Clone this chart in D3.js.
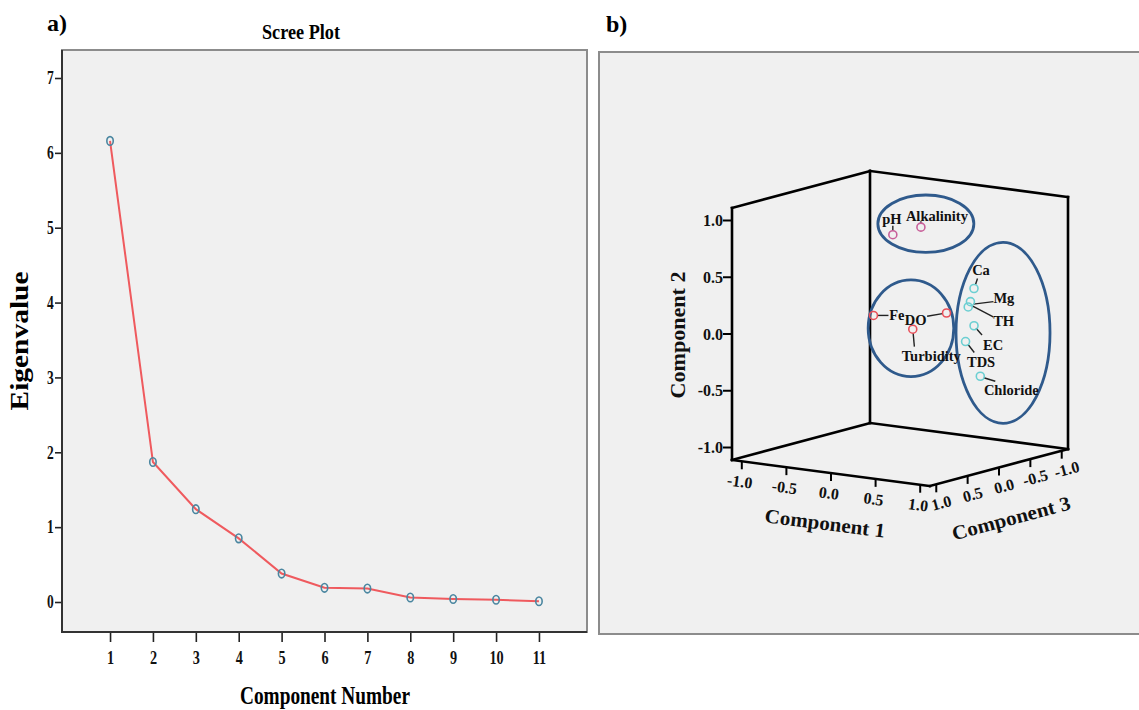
<!DOCTYPE html>
<html><head><meta charset="utf-8">
<script src="https://cdn.jsdelivr.net/npm/d3@7"></script>
<style>body{margin:0;background:#fff}svg{display:block}</style>
</head><body>
<svg id="chart" width="1139" height="710"></svg>
<script>
// ---------- data: panel a (scree plot) ----------
const components = [1,2,3,4,5,6,7,8,9,10,11];
const eigenvalues = [6.16,1.87,1.24,0.85,0.38,0.19,0.18,0.06,0.04,0.03,0.01];
const eigenTicks = [0,1,2,3,4,5,6,7];

// ---------- data: panel b (component loadings) ----------
const variables = ["pH","Alkalinity","Ca","Mg","TH","EC","TDS","Chloride","Fe","DO","Turbidity"];
const comp1 = [-0.01,0.34,0.90,0.86,0.80,0.83,0.70,0.83,0.23,0.17,0.53];
const comp2 = [0.84,0.95,0.46,0.34,0.28,0.11,-0.05,-0.35,0.25,0.08,0.13];
const comp3 = [0.10,0.15,0.10,0.10,0.05,0.00,-0.05,-0.10,0.75,-0.50,0.55];
const groups = ["B","B","A","A","A","A","A","A","C","C","C"];
const loadingTicks = [-1.0,-0.5,0.0,0.5,1.0];

// ---------- layout / style ----------
const serif = "'Liberation Serif','Times New Roman',serif";
const svg = d3.select("#chart");
const groupColor = {A:"#6ccfd2", B:"#c8609a", C:"#e8505a"};
const labelPlace = {
  "pH":        {dx:-1, dy:-11, anchor:"middle", l0:[0,-4], l1:[0,-9]},
  "Alkalinity":{dx:16, dy:-6,  anchor:"middle", l0:[0,-4], l1:[0,-6]},
  "Ca":        {dx:7,  dy:-14, anchor:"middle", l0:[1.5,-4], l1:[3.5,-10]},
  "Mg":        {dx:23, dy:1.6, anchor:"start",  l0:[3,2.5], l1:[23,0]},
  "TH":        {dx:25, dy:19.3,anchor:"start",  l0:[4,-1], l1:[25,10]},
  "EC":        {dx:9,  dy:24.3,anchor:"start",  l0:[2,2.5], l1:[8,9.3]},
  "TDS":       {dx:1.4,dy:25,  anchor:"start",  l0:[2.5,3], l1:[8.7,11]},
  "Chloride":  {dx:3.6,dy:18.3,anchor:"start",  l0:[3.5,1.5], l1:[15,5]},
  "Fe":        {dx:15.7,dy:5,  anchor:"start",  l0:[4,0], l1:[15,0]},
  "DO":        {dx:-20,dy:12.3,anchor:"end",    l0:[-4,0.6], l1:[-19.4,3.3]},
  "Turbidity": {dx:-11,dy:31.4,anchor:"start",  l0:[0.4,4], l1:[1.6,17.4]}
};

// ================= PANEL A =================
const A = {left:62, top:50, right:587, bottom:632};
svg.append("rect").attr("x",A.left).attr("y",A.top)
  .attr("width",A.right-A.left).attr("height",A.bottom-A.top)
  .attr("fill","#f0f0f0").attr("stroke","#8c8c8c").attr("stroke-width",2);

const x = d3.scalePoint().domain(components).range([A.left,A.right]).padding(1.12);
const y = d3.scaleLinear().domain([0,7]).range([602,78]);

const gy = svg.append("g").attr("transform",`translate(${A.left},0)`)
  .call(d3.axisLeft(y).tickValues(eigenTicks).tickSize(7).tickPadding(4).tickFormat(d3.format("d")));
const gx = svg.append("g").attr("transform",`translate(0,${A.bottom})`)
  .call(d3.axisBottom(x).tickSize(10).tickPadding(9));
[gx,gy].forEach(g=>{
  g.select(".domain").remove();
  g.selectAll(".tick line").attr("stroke","#222").attr("stroke-width",1.6);
  g.selectAll(".tick text").attr("font-family",serif).attr("font-weight","bold")
    .attr("font-size",19).attr("fill","#111");
});
gx.selectAll(".tick text").attr("transform","scale(0.75,1)");
gy.selectAll(".tick text").attr("font-size",18).attr("transform","scale(0.75,1)");
svg.append("line").attr("x1",A.left).attr("x2",A.left).attr("y1",A.top).attr("y2",A.bottom+1)
  .attr("stroke","#333").attr("stroke-width",2);
svg.append("line").attr("x1",A.left).attr("x2",A.right).attr("y1",A.bottom).attr("y2",A.bottom)
  .attr("stroke","#333").attr("stroke-width",2);

const scree = components.map((c,i)=>({c, v:eigenvalues[i]}));
svg.append("path").datum(scree)
  .attr("d", d3.line().x(d=>x(d.c)).y(d=>y(d.v)))
  .attr("fill","none").attr("stroke","#ef5a5e").attr("stroke-width",2);
svg.append("g").selectAll("ellipse").data(scree).join("ellipse")
  .attr("cx",d=>x(d.c)).attr("cy",d=>y(d.v)).attr("rx",3.2).attr("ry",4.3)
  .attr("fill","none").attr("stroke","#4a86a0").attr("stroke-width",1.6);

svg.append("text").attr("x",301).attr("y",39).attr("text-anchor","middle")
  .attr("font-family",serif).attr("font-weight","bold").attr("font-size",21)
  .attr("textLength",78).attr("lengthAdjust","spacingAndGlyphs").text("Scree Plot");
svg.append("text").attr("x",325).attr("y",704).attr("text-anchor","middle")
  .attr("font-family",serif).attr("font-weight","bold").attr("font-size",26)
  .attr("textLength",170).attr("lengthAdjust","spacingAndGlyphs").text("Component Number");
svg.append("text").attr("transform","translate(28,341) rotate(-90)").attr("text-anchor","middle")
  .attr("font-family",serif).attr("font-weight","bold").attr("font-size",25)
  .attr("textLength",139).attr("lengthAdjust","spacingAndGlyphs").text("Eigenvalue");
svg.append("text").attr("x",47).attr("y",31)
  .attr("font-family",serif).attr("font-weight","bold").attr("font-size",24).text("a)");

// ================= PANEL B =================
svg.append("rect").attr("x",599).attr("y",52).attr("width",560).attr("height",582)
  .attr("fill","#f0f0f0").attr("stroke","#8c8c8c").attr("stroke-width",2);
svg.append("text").attr("x",606).attr("y",32)
  .attr("font-family",serif).attr("font-weight","bold").attr("font-size",24).text("b)");

const D1 = [-1.11,1.11], D2 = [-1.11,1.11], D3 = [-1.1,1.1];
const origin = [900,328.5];
const c1x = d3.scaleLinear().domain(D1).range([-99,99]);
const c1y = d3.scaleLinear().domain(D1).range([-13,13]);
const c2y = d3.scaleLinear().domain(D2).range([126,-126]);
const c3x = d3.scaleLinear().domain(D3).range([69,-69]);
const c3y = d3.scaleLinear().domain(D3).range([-18.5,18.5]);
const P = (a,b,c)=>[origin[0]+c1x(a)+c3x(c), origin[1]+c1y(a)+c2y(b)+c3y(c)];

const [L1,H1]=D1,[L2,H2]=D2,[L3,H3]=D3;
const edges = [
  [[L1,L2,H3],[L1,H2,H3]], [[L1,L2,L3],[L1,H2,L3]], [[H1,L2,L3],[H1,H2,L3]],
  [[L1,H2,H3],[L1,H2,L3]], [[L1,H2,L3],[H1,H2,L3]],
  [[L1,L2,H3],[L1,L2,L3]], [[L1,L2,L3],[H1,L2,L3]],
  [[L1,L2,H3],[H1,L2,H3]], [[H1,L2,H3],[H1,L2,L3]]
];
const gb = svg.append("g");
gb.selectAll("line.edge").data(edges).join("line").attr("class","edge")
  .attr("x1",d=>P(...d[0])[0]).attr("y1",d=>P(...d[0])[1])
  .attr("x2",d=>P(...d[1])[0]).attr("y2",d=>P(...d[1])[1])
  .attr("stroke","#000").attr("stroke-width",2.6).attr("stroke-linecap","square");

const fmt = v => v.toFixed(1);
const tickFont = g=>g.attr("font-family",serif).attr("font-weight","bold").attr("font-size",16).attr("fill","#111");
loadingTicks.forEach(v=>{
  const p = P(L1,v,H3);
  gb.append("line").attr("x1",p[0]-9).attr("x2",p[0]).attr("y1",p[1]).attr("y2",p[1])
    .attr("stroke","#000").attr("stroke-width",2);
  gb.append("text").attr("x",p[0]-9).attr("y",p[1]).attr("dy","0.35em").attr("text-anchor","end")
    .call(tickFont).text(fmt(v));
});
loadingTicks.forEach(v=>{
  const p = P(v,L2,H3);
  gb.append("line").attr("x1",p[0]).attr("x2",p[0]).attr("y1",p[1]).attr("y2",p[1]+8)
    .attr("stroke","#000").attr("stroke-width",2);
  gb.append("text").attr("transform",`translate(${p[0]-2},${p[1]+20}) rotate(7.5)`)
    .attr("dy","0.35em").attr("text-anchor","middle").call(tickFont).text(fmt(v));
});
loadingTicks.forEach(v=>{
  const p = P(H1,L2,v);
  gb.append("line").attr("x1",p[0]).attr("x2",p[0]).attr("y1",p[1]).attr("y2",p[1]+8)
    .attr("stroke","#000").attr("stroke-width",2);
  gb.append("text").attr("transform",`translate(${p[0]+5},${p[1]+18.5}) rotate(-15)`)
    .attr("dy","0.35em").attr("text-anchor","middle").call(tickFont).text(fmt(v));
});
const titleFont = t=>t.attr("font-family",serif).attr("font-weight","bold").attr("font-size",20)
  .attr("fill","#111").attr("text-anchor","middle").attr("lengthAdjust","spacingAndGlyphs");
gb.append("text").attr("transform","translate(678,335) rotate(-90)").attr("dy","0.35em")
  .call(titleFont).attr("textLength",127).text("Component 2");
gb.append("text").attr("transform","translate(825,523) rotate(7.2)").attr("dy","0.35em")
  .call(titleFont).attr("textLength",121).text("Component 1");
gb.append("text").attr("transform","translate(1011,518) rotate(-15)").attr("dy","0.35em")
  .call(titleFont).attr("textLength",122).text("Component 3");

const clusters = [
  {c:[0.29,0.953,0], rx:48, ry:28.7},
  {c:[0.123,0.015,0], rx:42.8, ry:48.3},
  {c:[1.155,0.081,0], rx:47, ry:90.5}
];
gb.selectAll("ellipse.cl").data(clusters).join("ellipse").attr("class","cl")
  .attr("cx",d=>P(...d.c)[0]).attr("cy",d=>P(...d.c)[1])
  .attr("rx",d=>d.rx).attr("ry",d=>d.ry)
  .attr("fill","none").attr("stroke","#2f5a8c").attr("stroke-width",2.8);

const pts = variables.map((n,i)=>{
  const p = P(comp1[i],comp2[i],comp3[i]);
  return {n, g:groups[i], x:p[0], y:p[1], lp:labelPlace[n]};
});
gb.selectAll("line.leader").data(pts).join("line").attr("class","leader")
  .attr("x1",d=>d.x+d.lp.l0[0]).attr("y1",d=>d.y+d.lp.l0[1])
  .attr("x2",d=>d.x+d.lp.l1[0]).attr("y2",d=>d.y+d.lp.l1[1])
  .attr("stroke","#222").attr("stroke-width",1.4);
gb.selectAll("circle.pt").data(pts).join("circle").attr("class","pt")
  .attr("cx",d=>d.x).attr("cy",d=>d.y).attr("r",4)
  .attr("fill","none").attr("stroke",d=>groupColor[d.g]).attr("stroke-width",1.6);
gb.selectAll("text.lbl").data(pts).join("text").attr("class","lbl")
  .attr("x",d=>d.x+d.lp.dx).attr("y",d=>d.y+d.lp.dy).attr("text-anchor",d=>d.lp.anchor)
  .attr("font-family",serif).attr("font-weight","bold").attr("font-size",14.5).attr("fill","#111")
  .text(d=>d.n);
</script>
</body></html>
